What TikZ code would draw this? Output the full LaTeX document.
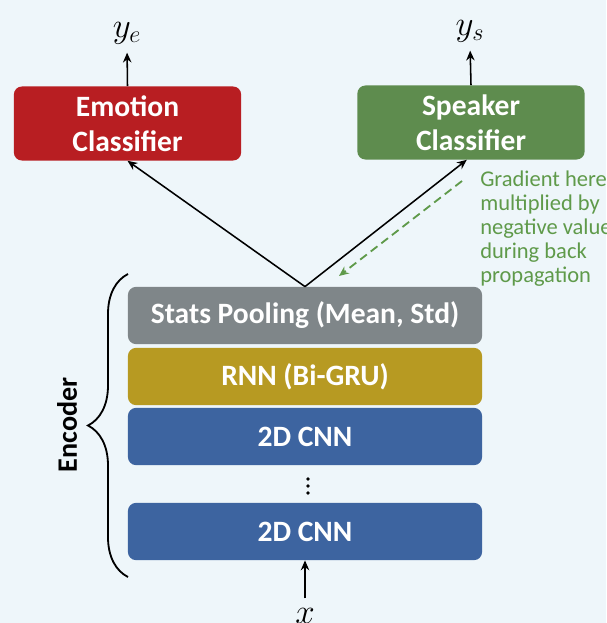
\documentclass[tikz,border=0pt]{standalone}
\usepackage{fontspec}
\setmainfont{Carlito}
\usetikzlibrary{arrows.meta,decorations.pathreplacing}
\definecolor{bgblue}{HTML}{EEF6FA}
\definecolor{emored}{HTML}{B81E22}
\definecolor{spkgreen}{HTML}{5E8C4E}
\definecolor{notegreen}{HTML}{5F9A4A}
\definecolor{poolgray}{HTML}{7F8689}
\definecolor{rnngold}{HTML}{B79A22}
\definecolor{cnnblue}{HTML}{3D64A0}
\tikzset{
  layer/.style={rounded corners=0.2cm, minimum width=8.85cm, minimum height=1.43cm,
    text=white, font=\fontsize{21}{25}\selectfont\bfseries, inner sep=0pt},
  classifier/.style={layer, minimum width=5.68cm, minimum height=1.85cm, align=center},
  outlabel/.style={font=\fontsize{23}{26}\selectfont, inner sep=1pt},
  flow/.style={line width=1.1pt, -{Stealth[length=7pt,width=6pt]}}
}
\begin{document}
\begin{tikzpicture}[x=0.025cm,y=-0.025cm]
\fill[bgblue] (0,0) rectangle (606,623);
\useasboundingbox (0,0) rectangle (606,623);

% classifiers on top
\node[classifier, fill=emored] (emo) at (127.5,123.5) {Emotion\\Classifier};
\node[classifier, fill=spkgreen] (spk) at (471,122.5) {Speaker\\Classifier};
\node[outlabel] (ye) at (127,33) {$y_e$};
\node[outlabel] (ys) at (470,31) {$y_s$};
\draw[flow, shorten >=5pt] (emo.north) -- (ye.south);
\draw[flow, shorten >=5pt] (spk.north) -- (ys.south);

% encoder stack
\node[layer, fill=poolgray] (pool) at (305,315.5) {Stats Pooling (Mean, Std)};
\node[layer, fill=rnngold] (rnn) at (305,376.5) {RNN (Bi-GRU)};
\node[layer, fill=cnnblue] (cnn1) at (305,436.5) {2D CNN};
\node[layer, fill=cnnblue] (cnn2) at (305,531.5) {2D CNN};
\fill (308,479) circle (1.4pt);
\fill (308,486) circle (1.4pt);
\fill (308,493) circle (1.4pt);

\node[outlabel] (x) at (305,616) {$x$};
\draw[flow, shorten <=6pt] (x.north) -- (cnn2.south);

% pooled features go to both heads
\draw[flow] (pool.north) -- (emo.south);
\draw[flow] (pool.north) -- ([xshift=-3]spk.south);

% reversed gradient
\coordinate (gtop) at (462,181);
\coordinate (gbot) at (339,276);
\draw[notegreen, line width=1.3pt, dash pattern=on 6pt off 3.5pt,
  -{Stealth[length=7pt,width=6pt]}] (gtop) -- (gbot);
\node[notegreen, anchor=north west, align=left, inner sep=0pt,
  font=\fontsize{16}{17}\selectfont] (note) at (480,171)
  {Gradient here\\multiplied by\\negative value\\during back\\propagation};

% encoder brace
\draw[line width=1.3pt, decorate, decoration={brace, amplitude=1cm}]
  (128,577) -- (128,274);
\node[rotate=90, font=\fontsize{20}{25}\selectfont\bfseries] (enc) at (67,425) {Encoder};
\end{tikzpicture}
\end{document}
